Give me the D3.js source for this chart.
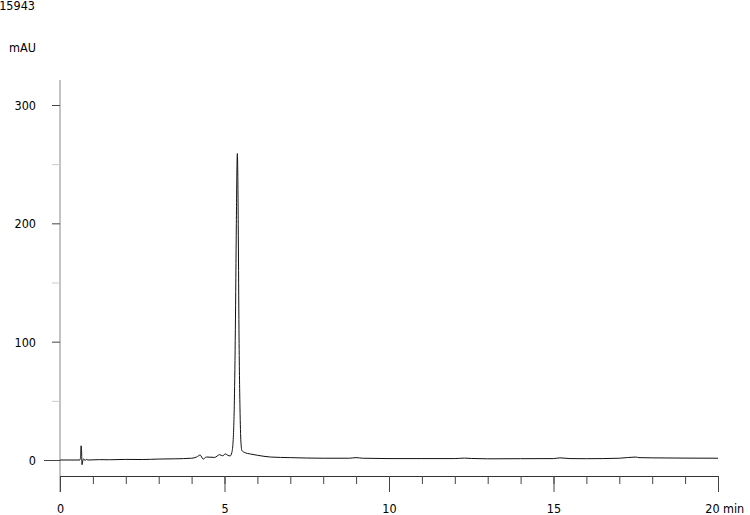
<!DOCTYPE html>
<html>
<head>
<meta charset="utf-8">
<script src="https://cdn.jsdelivr.net/npm/d3@7"></script>
<style>
  body { margin: 0; background: #fff; }
  svg { display: block; }
  text { font-family: "DejaVu Sans Condensed", "DejaVu Sans", sans-serif; font-size: 12.5px; fill: #000; }
</style>
</head>
<body>
<div id="chart"></div>
<script>
// retention time (min) and absorbance (mAU)
var time = [0, 0.6, 0.625, 0.64, 0.655, 0.67, 0.69, 0.72, 0.76, 0.8, 0.85, 1.2, 1.5, 2.0, 2.5, 3.0, 3.5, 4.0,
    4.15, 4.26, 4.35, 4.45, 4.7, 4.85, 4.95, 5.02, 5.1, 5.17, 5.22, 5.26, 5.3, 5.33, 5.36, 5.38, 5.39, 5.40, 5.42, 5.44,
    5.47, 5.5, 5.53, 5.6, 5.8, 6.0, 6.4, 7, 8, 8.8, 9.0, 9.2, 10, 11, 12, 12.3, 12.5, 13, 14, 15, 15.2, 15.5,
    16, 17, 17.5, 17.6, 18, 19, 20];
var mAU = [0, 0, 2, 12, 8, -4, -1, 1, -0.5, 0.5, 0, 0.3, 0.2, 0.5, 0.4, 0.8, 1.0, 1.5,
    2.5, 4.2, 0.8, 2.5, 2.2, 4.5, 3.5, 5.2, 4.0, 3.4, 6, 15, 50, 110, 200, 250, 259, 250, 190, 110,
    45, 15, 8, 6.5, 5, 4, 2.5, 2, 1.5, 1.5, 2, 1.5, 1.2, 1.2, 1.2, 1.6, 1.3, 1, 1.1, 1.2, 1.8, 1.2,
    1.1, 1.5, 2.5, 2, 1.8, 1.6, 1.5];

var xMajor = [0, 5, 10, 15, 20];
var xMinor = d3.range(0, 21, 1);
var yMajor = [0, 100, 200, 300];
var yMinor = [50, 150, 250];

var W = 750, H = 515;
var svg = d3.select("#chart").append("svg").attr("width", W).attr("height", H);

var x = d3.scaleLinear().domain([0, 20]).range([60, 718]);
var y = d3.scaleLinear().domain([0, 300]).range([460, 105]);
var axisY = 476;

// vertical axis line
svg.append("line")
    .attr("x1", 60).attr("x2", 60)
    .attr("y1", 80).attr("y2", 492)
    .attr("stroke", "#888").attr("stroke-width", 1);

// y ticks
var gy = svg.append("g").attr("transform", "translate(60,0)")
    .call(d3.axisLeft(y).tickValues(yMajor).tickSize(8).tickPadding(16));
gy.select(".domain").remove();
gy.selectAll(".tick line").attr("stroke", "#444")
    .attr("x2", function(d) { return d === 0 ? -16 : -8; });
gy.selectAll(".tick text").attr("dy", "0.36em").attr("x", -24);

var gym = svg.append("g").attr("transform", "translate(60,0)")
    .call(d3.axisLeft(y).tickValues(yMinor).tickSize(8).tickFormat(""));
gym.select(".domain").remove();
gym.selectAll(".tick line").attr("stroke", "#ccc");

// x axis
var gxm = svg.append("g").attr("transform", "translate(0," + axisY + ")")
    .call(d3.axisBottom(x).tickValues(xMinor).tickSize(8).tickSizeOuter(0).tickFormat(""));
gxm.select(".domain").attr("stroke", "#333");
gxm.selectAll(".tick line").attr("stroke", "#444");

var gx = svg.append("g").attr("transform", "translate(0," + axisY + ")")
    .call(d3.axisBottom(x).tickValues(xMajor).tickSize(16).tickPadding(0).tickFormat(d3.format("d")));
gx.select(".domain").remove();
gx.selectAll(".tick line").attr("stroke", "#444");
gx.selectAll(".tick text").attr("y", 37).attr("dy", 0)
    .attr("dx", function(d) { return d === 20 ? -6 : 0; });

svg.append("text").attr("x", 723).attr("y", 513).text("min");
svg.append("text").attr("x", 9).attr("y", 52).text("mAU");
svg.append("text").attr("x", 35).attr("y", 10).attr("text-anchor", "end").text("15943");

// trace
var pts = time.map(function(t, i) { return [t, mAU[i]]; });
svg.append("path")
    .datum(pts)
    .attr("fill", "none")
    .attr("stroke", "#111")
    .attr("stroke-width", 1)
    .attr("stroke-linejoin", "round")
    .attr("d", d3.line()
        .x(function(d) { return x(d[0]); })
        .y(function(d) { return y(d[1]); })
        .curve(d3.curveMonotoneX));
</script>
</body>
</html>
